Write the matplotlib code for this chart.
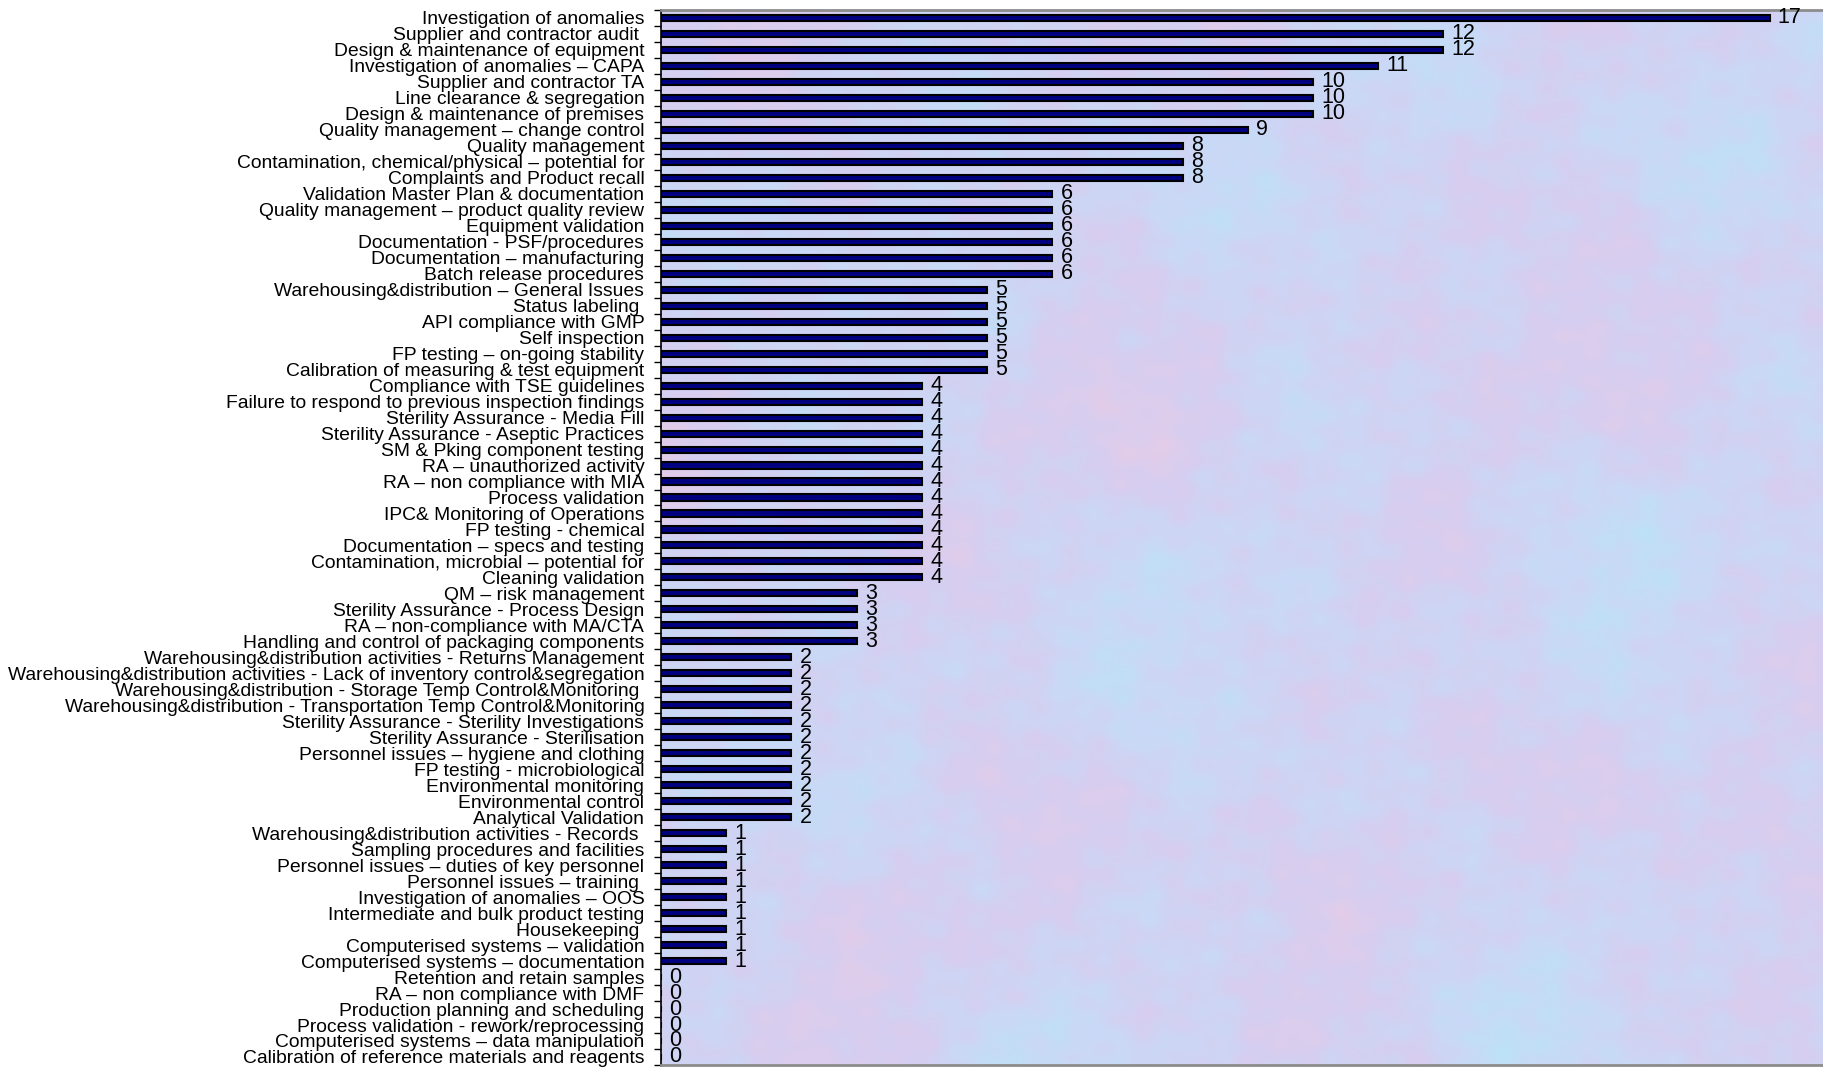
import matplotlib
matplotlib.use("Agg")
import matplotlib.pyplot as plt
import numpy as np

plt.rcParams['font.family'] = ['Liberation Sans', 'DejaVu Sans']

# 检查项目类别（自上而下）
categories = [
    "Investigation of anomalies",
    "Supplier and contractor audit ",
    "Design & maintenance of equipment",
    "Investigation of anomalies \u2013 CAPA",
    "Supplier and contractor TA",
    "Line clearance & segregation",
    "Design & maintenance of premises",
    "Quality management \u2013 change control",
    "Quality management",
    "Contamination, chemical/physical \u2013 potential for",
    "Complaints and Product recall",
    "Validation Master Plan & documentation",
    "Quality management \u2013 product quality review",
    "Equipment validation",
    "Documentation - PSF/procedures",
    "Documentation \u2013 manufacturing",
    "Batch release procedures",
    "Warehousing&distribution \u2013 General Issues",
    "Status labeling ",
    "API compliance with GMP",
    "Self inspection",
    "FP testing \u2013 on-going stability",
    "Calibration of measuring & test equipment",
    "Compliance with TSE guidelines",
    "Failure to respond to previous inspection findings",
    "Sterility Assurance - Media Fill",
    "Sterility Assurance - Aseptic Practices",
    "SM & Pking component testing",
    "RA \u2013 unauthorized activity",
    "RA \u2013 non compliance with MIA",
    "Process validation",
    "IPC& Monitoring of Operations",
    "FP testing - chemical",
    "Documentation \u2013 specs and testing",
    "Contamination, microbial \u2013 potential for",
    "Cleaning validation",
    "QM \u2013 risk management",
    "Sterility Assurance - Process Design",
    "RA \u2013 non-compliance with MA/CTA",
    "Handling and control of packaging components",
    "Warehousing&distribution activities - Returns Management",
    "Warehousing&distribution activities - Lack of inventory control&segregation",
    "Warehousing&distribution - Storage Temp Control&Monitoring ",
    "Warehousing&distribution - Transportation Temp Control&Monitoring",
    "Sterility Assurance - Sterility Investigations",
    "Sterility Assurance - Sterilisation",
    "Personnel issues \u2013 hygiene and clothing",
    "FP testing - microbiological",
    "Environmental monitoring",
    "Environmental control",
    "Analytical Validation",
    "Warehousing&distribution activities - Records ",
    "Sampling procedures and facilities",
    "Personnel issues \u2013 duties of key personnel",
    "Personnel issues \u2013 training ",
    "Investigation of anomalies \u2013 OOS",
    "Intermediate and bulk product testing",
    "Housekeeping ",
    "Computerised systems \u2013 validation",
    "Computerised systems \u2013 documentation",
    "Retention and retain samples",
    "RA \u2013 non compliance with DMF",
    "Production planning and scheduling",
    "Process validation - rework/reprocessing",
    "Computerised systems \u2013 data manipulation",
    "Calibration of reference materials and reagents",
]

counts = [17, 12, 12, 11, 10, 10, 10, 9, 8, 8, 8,
          6, 6, 6, 6, 6, 6,
          5, 5, 5, 5, 5, 5,
          4, 4, 4, 4, 4, 4, 4, 4, 4, 4, 4, 4, 4,
          3, 3, 3, 3,
          2, 2, 2, 2, 2, 2, 2, 2, 2, 2, 2,
          1, 1, 1, 1, 1, 1, 1, 1, 1,
          0, 0, 0, 0, 0, 0]

n = len(categories)
y = np.arange(n)
xmax = 17.82

fig = plt.figure(figsize=(18.23, 10.70), dpi=100)
ax = fig.add_axes([0.3626, 0.0047, 0.6374, 0.9860])

# 背景纹理：多方向正弦叠加，形成斑驳的淡蓝/淡紫底纹
H, W = 530, 580
yy, xx = np.mgrid[0:H, 0:W].astype(float)
t = np.zeros((H, W))
waves = [(0.031, 0.3, 0.0, 0.8), (0.027, 1.4, 1.3, 0.8), (0.036, 2.3, 2.1, 0.7),
         (0.044, 0.9, 0.7, 0.6), (0.052, 2.8, 3.9, 0.55), (0.071, 1.9, 5.0, 0.5),
         (0.093, 0.55, 2.6, 0.45), (0.12, 2.55, 4.4, 0.45), (0.17, 1.15, 0.4, 0.4),
         (0.23, 3.0, 1.7, 0.35), (0.29, 1.7, 3.3, 0.35), (0.37, 0.2, 2.2, 0.3),
         (0.43, 2.1, 0.9, 0.3), (0.51, 1.3, 4.1, 0.25)]
for k, ang, ph, amp in waves:
    t += amp * np.sin(k * (np.cos(ang) * xx + np.sin(ang) * yy) + ph)
t = (t - t.min()) / (t.max() - t.min())
c_cyan = np.array([188, 226, 246]) / 255
c_blue = np.array([202, 216, 246]) / 255
c_lav = np.array([214, 206, 240]) / 255
c_pink = np.array([228, 204, 232]) / 255
w = t[..., None]
img = np.where(w < 0.35, c_cyan + (c_blue - c_cyan) * (w / 0.35),
               np.where(w < 0.65, c_blue + (c_lav - c_blue) * ((w - 0.35) / 0.3),
                        c_lav + (c_pink - c_lav) * ((w - 0.65) / 0.35)))
ax.imshow(img, extent=[0, xmax, n - 0.5, -0.5], aspect='auto', zorder=0,
          interpolation='bilinear')

ax.barh(y, counts, height=0.38, color='#000080', edgecolor='black',
        linewidth=1.5, zorder=2)

for yi, v in zip(y, counts):
    ax.annotate(str(v), xy=(v, yi), xytext=(6, 0), textcoords='offset points',
                va='center', ha='left', fontsize=15.5, color='black', zorder=3)

ax.set_xlim(0, xmax)
ax.set_ylim(n - 0.5, -0.5)
ax.set_xticks([])
ax.set_yticks(y)
ax.set_yticklabels(categories, fontsize=13.9)
ax.tick_params(axis='y', which='major', length=0, pad=12)
ax.set_yticks(np.arange(n + 1) - 0.5, minor=True)
ax.tick_params(axis='y', which='minor', length=5, width=1, direction='out')

ax.spines['left'].set_color('black')
ax.spines['left'].set_linewidth(1.2)
for s in ['top', 'bottom']:
    ax.spines[s].set_color('#8c8c8c')
    ax.spines[s].set_linewidth(2)
ax.spines['right'].set_visible(False)

plt.savefig('out.png', dpi=100)
